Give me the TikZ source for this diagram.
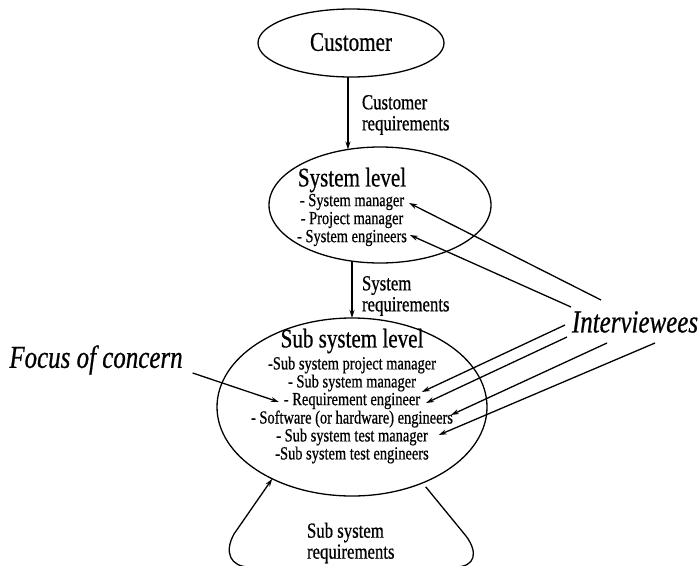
\documentclass[tikz,border=0pt]{standalone}
\usepackage{fontspec}
\setmainfont{Liberation Serif}[FakeStretch=0.78,FakeBold=0.6]
\usetikzlibrary{arrows.meta,shapes.geometric}
\begin{document}
\begin{tikzpicture}[x=1pt,y=-1pt,
  every node/.style={inner sep=0pt,outer sep=0pt},
  level/.style={draw,ellipse,line width=1.3pt},
  title/.style={font=\fontsize{27}{27}\selectfont},
  item/.style={font=\fontsize{18.5}{18}\selectfont},
  flowlabel/.style={anchor=west,align=left,font=\fontsize{21.5}{21}\selectfont},
  callout/.style={font=\fontsize{32}{32}\selectfont\itshape},
  flow/.style={line width=1.3pt,-{Stealth[length=8pt,width=5pt]}},
  pointer/.style={line width=1.3pt,-{Stealth[length=8pt,width=5pt]}}]

\useasboundingbox (0,0) rectangle (700,565);

% customer
\node[level,minimum width=186pt,minimum height=68pt] (cust) at (351,43) {};
\node[title] (custtitle) at (351,42) {Customer};

% system level
\node[level,minimum width=222pt,minimum height=116pt] (sys) at (380,205) {};
\node[title] (systitle) at (352,180) {System level};
\node[item] (sys1) at (352,202) {- System manager};
\node[item] (sys2) at (352,220) {- Project manager};
\node[item] (sys3) at (352,238) {- System engineers};

% sub system level
\node[level,minimum width=270pt,minimum height=178pt] (sub) at (352,407) {};
\node[title] (subtitle) at (352,341) {Sub system level};
\node[item] (sub1) at (352,365) {-Sub system project manager};
\node[item] (sub2) at (352,383) {- Sub system manager};
\node[item] (sub3) at (352,401) {- Requirement engineer};
\node[item] (sub4) at (352,419) {- Software (or hardware) engineers};
\node[item] (sub5) at (352,437) {- Sub system test manager};
\node[item] (sub6) at (352,455) {-Sub system test engineers};

% flow labels
\node[flowlabel] (custreq) at (362,115) {Customer\\requirements};
\node[flowlabel] (sysreq) at (362,296) {System\\requirements};
\node[flowlabel] (subreq) at (307,543) {Sub system\\requirements};

% callouts
\node[callout] (iv) at (635,322) {Interviewees};
\node[callout] (focus) at (96,360) {Focus of concern};

% requirement flow
\draw[flow] (sys.120 |- cust.south) -- (sys.120);
\draw[flow] (sub.north |- sys.242) -- (sub.north);
\draw[flow] ([shift={(3,4)}]sub.-47) -- (466,536)
  .. controls (478,552) and (476,567) .. (455,567) -- (250,567)
  .. controls (230,567) and (224,552) .. (234,534) -- (sub.222);

% interviewee pointers
\coordinate (iva) at ([shift={(-34,-22)}]iv.center);
\coordinate (ivb) at ([shift={(-64,-15)}]iv.center);
\coordinate (ivc) at ([shift={(-70,3)}]iv.center);
\coordinate (ivd) at ([shift={(-68,15)}]iv.center);
\coordinate (ive) at ([shift={(-28,21)}]iv.center);
\coordinate (ivf) at ([shift={(20,21)}]iv.center);
\draw[pointer] (iva) -- ([shift={(5,1)}]sys1.east);
\draw[pointer] (ivb) -- ([shift={(3,-3)}]sys3.east);
\draw[pointer] (ivc) -- ([shift={(6,9)}]sub2.east);
\draw[pointer] (ivd) -- ([shift={(6,2)}]sub3.east);
\draw[pointer] (ive) -- ([shift={(-2,-4)}]sub4.east);
\draw[pointer] (ivf) -- ([shift={(11,-2)}]sub5.east);

% focus pointer
\coordinate (fc) at ([shift={(10,13)}]focus.east);
\draw[pointer] (fc) -- ([shift={(-5,1)}]sub3.west);
\end{tikzpicture}
\end{document}
